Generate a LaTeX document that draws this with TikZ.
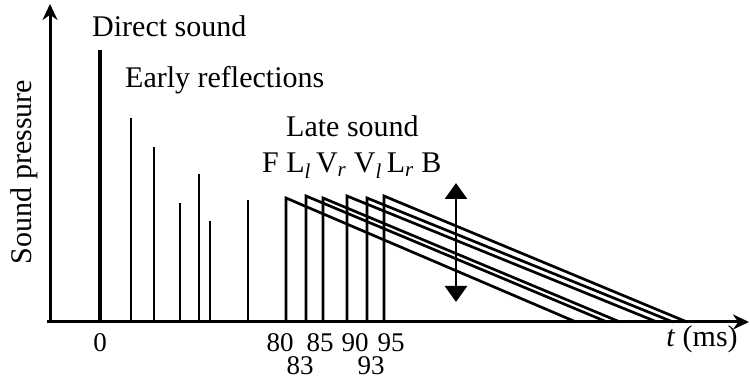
\documentclass[tikz,border=0pt]{standalone}
\usepackage{fontspec}
\setmainfont{Liberation Serif}
\usetikzlibrary{arrows.meta}
\tikzstyle{lbl} = [inner sep=0pt, font=\fontsize{30}{34}\selectfont]
\tikzstyle{tick} = [inner sep=0pt, anchor=base, font=\fontsize{27}{30}\selectfont]
\tikzstyle{axisline} = [line width=3pt, -{Stealth[length=16pt,width=15pt]}]
\tikzstyle{direct} = [line width=3.6pt]
\tikzstyle{reflection} = [line width=2.4pt]
\tikzstyle{late} = [line width=2.7pt, line join=miter]
\tikzstyle{spread} = [line width=2.8pt, {Triangle[width=22pt,length=16pt]}-{Triangle[width=22pt,length=16pt]}]

\begin{document}
\begin{tikzpicture}[x=1pt, y=-1pt]
      \useasboundingbox (0,0) rectangle (750,379);

      % Axes
      \coordinate (xstart) at (47,322);
      \coordinate (xend) at (749,322);
      \coordinate (yfoot) at (50,322);
      \coordinate (yend) at (50,4);
      \draw [axisline] (xstart) -- (xend);
      \draw [axisline] (yfoot) -- (yend);

      % Direct sound and early reflections
      \draw [direct] (100,322) -- (100,50);
      \draw [reflection] (131,322) -- (131,118);
      \draw [reflection] (154,322) -- (154,147);
      \draw [reflection] (180,322) -- (180,203);
      \draw [reflection] (199,322) -- (199,174);
      \draw [reflection] (210,322) -- (210,221);
      \draw [reflection] (248,322) -- (248,200);

      % Late sound
      \draw [late] (286,322) -- (286,198) -- (576,322);
      \draw [late] (306,322) -- (306,196) -- (607,322);
      \draw [late] (323,322) -- (323,198) -- (620,322);
      \draw [late] (347,322) -- (347,196) -- (657,322);
      \draw [late] (367,322) -- (367,198) -- (673,322);
      \draw [late] (384,322) -- (384,196) -- (687,322);

      % Level range
      \coordinate (rtop) at (456,183);
      \coordinate (rbot) at (456,302);
      \draw [spread] (rtop) -- (rbot);

      % Labels
      \node (direct) [lbl, anchor=base west] at (92,37) {Direct sound};
      \node (early) [lbl, anchor=base west] at (125,88) {Early reflections};
      \node (late) [lbl, anchor=base west] at (286,137) {Late sound};
      \node (sources) [lbl, anchor=base west] at (262,173) {F L\textsubscript{\itshape l}\,V\textsubscript{\itshape r} V\textsubscript{\itshape l}\,L\textsubscript{\itshape r} B};
      \node (ylabel) [lbl, rotate=90] at (24,172) {Sound pressure};
      \node (xlabel) [lbl, anchor=base] at (702,347) {\textit{t} (ms)};
      \node (t0) [tick] at (100,352) {0};
      \node (t80) [tick] at (280,352) {80};
      \node (t85) [tick] at (320,352) {85};
      \node (t90) [tick] at (355,352) {90};
      \node (t95) [tick] at (391,352) {95};
      \node (t83) [tick] at (300,374) {83};
      \node (t93) [tick] at (371,374) {93};

\end{tikzpicture}
\end{document}
